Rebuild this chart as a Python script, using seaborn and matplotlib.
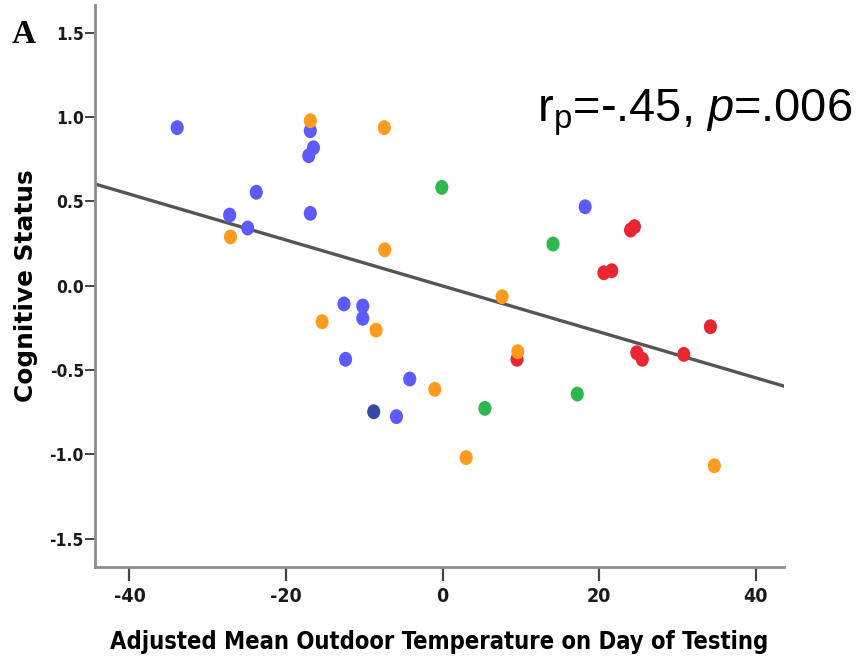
import numpy as np
import pandas as pd
import matplotlib
matplotlib.use("Agg")
import matplotlib.pyplot as plt
from matplotlib.path import Path
from matplotlib.transforms import Affine2D
import seaborn as sns

# ---- data ----
temperature = [-33.9, -27.2, -24.9, -23.8, -16.9, -16.5, -17.1, -16.9, -12.6, -10.2, -10.2,
               -12.4, -4.2, -5.9, 18.2,
               -8.8,
               -16.9, -7.45, -27.1, -7.4, -15.4, -8.5, -1.0, 3.0, 7.6, 34.7,
               -0.1, 14.1, 5.4, 17.2,
               24.0, 24.5, 20.6, 21.6, 9.5, 24.8, 25.5, 30.8, 34.2,
               9.6]
cognitive = [0.937, 0.419, 0.342, 0.554, 0.919, 0.818, 0.771, 0.429, -0.108, -0.120, -0.193,
             -0.436, -0.553, -0.776, 0.468,
             -0.747,
             0.978, 0.937, 0.289, 0.213, -0.213, -0.263, -0.614, -1.019, -0.065, -1.067,
             0.583, 0.247, -0.727, -0.642,
             0.330, 0.350, 0.077, 0.089, -0.436, -0.397, -0.436, -0.407, -0.243,
             -0.391]
group = (["blue"] * 15 + ["darkblue"] + ["orange"] * 10 + ["green"] * 4 + ["red"] * 9
         + ["orange"])
fit_x = [-44.4, 43.6]
fit_y = [0.603, -0.595]
x_ticks = [-40, -20, 0, 20, 40]
y_ticks = [-1.5, -1.0, -0.5, 0.0, 0.5, 1.0, 1.5]
palette = {"blue": "#5b5bff", "darkblue": "#3848a8", "orange": "#ff9b1e",
           "green": "#2cb84c", "red": "#ea2730"}

df = pd.DataFrame({"temp": temperature, "cog": cognitive, "grp": group})
line_df = pd.DataFrame({"x": fit_x, "y": fit_y})

sns.set_style("white")
plt.rcParams["font.family"] = ["Liberation Sans", "DejaVu Sans"]
plt.rcParams["text.color"] = "black"
plt.rcParams["mathtext.fontset"] = "custom"
plt.rcParams["mathtext.rm"] = "Liberation Sans"
plt.rcParams["mathtext.it"] = "Liberation Sans:italic"

W, H = 858, 659
fig = plt.figure(figsize=(W / 100, H / 100), dpi=100)
ax = fig.add_axes([95 / W, 1 - 567.3 / H, (784 - 95) / W, (567.3 - 5) / H])

ellipse = Path.unit_circle().transformed(Affine2D().scale(0.88, 1.0))

sns.lineplot(data=line_df, x="x", y="y", ax=ax, color="#555555", lw=2.4, zorder=1)
sns.scatterplot(data=df, x="temp", y="cog", hue="grp", palette=palette, ax=ax,
                marker=ellipse, s=115, linewidth=0, legend=False, zorder=3)

ax.set_xlim(-44.4, 43.6)
ax.set_ylim(-1.669, 1.664)
ax.set_xticks(x_ticks)
ax.set_yticks(y_ticks)
ax.set_xticklabels([f"{v:d}" for v in x_ticks])
ax.set_yticklabels([f"{v:.1f}" for v in y_ticks])

narrow = ["DejaVu Sans", "Liberation Sans"]
for lab in ax.get_xticklabels():
    lab.set_family(narrow); lab.set_stretch("condensed"); lab.set_fontweight("bold")
    lab.set_fontsize(14); lab.set_color("#1a1a1a")
for lab in ax.get_yticklabels():
    lab.set_family(narrow); lab.set_stretch("condensed"); lab.set_fontweight("bold")
    lab.set_fontsize(12.5); lab.set_color("#1a1a1a")

ax.tick_params(axis="x", bottom=True, direction="out", length=10, width=1.6,
               color="#444444", pad=4)
ax.tick_params(axis="y", left=True, direction="out", length=7, width=1.4,
               color="#444444", pad=1)

for side in ["top", "right"]:
    ax.spines[side].set_visible(False)
for side in ["left", "bottom"]:
    ax.spines[side].set_color("#8c8c8c")
    ax.spines[side].set_linewidth(2.0)

ax.set_xlabel("Adjusted Mean Outdoor Temperature on Day of Testing",
              fontsize=17, fontweight="bold", family=narrow, fontstretch="condensed",
              color="black")
ax.xaxis.set_label_coords(0.5, -(630 - 567.3) / (567.3 - 5))
ax.set_ylabel("Cognitive Status", fontsize=17.8, fontweight="bold", color="black",
              family=["DejaVu Sans"])
ax.yaxis.set_label_coords((38 - 95) / (784 - 95), 0.5)

fig.text(12 / W, 1 - 43 / H, "A", fontsize=24, fontweight="bold",
         family=["Liberation Serif", "DejaVu Serif"], va="baseline", ha="left")
fig.text(537 / W, 1 - 122 / H, r"r$_\mathregular{p}$=-.45, $\mathit{p}$=.006",
         fontsize=33.8, va="baseline", ha="left", color="black")

fig.savefig("out.png", dpi=100)
